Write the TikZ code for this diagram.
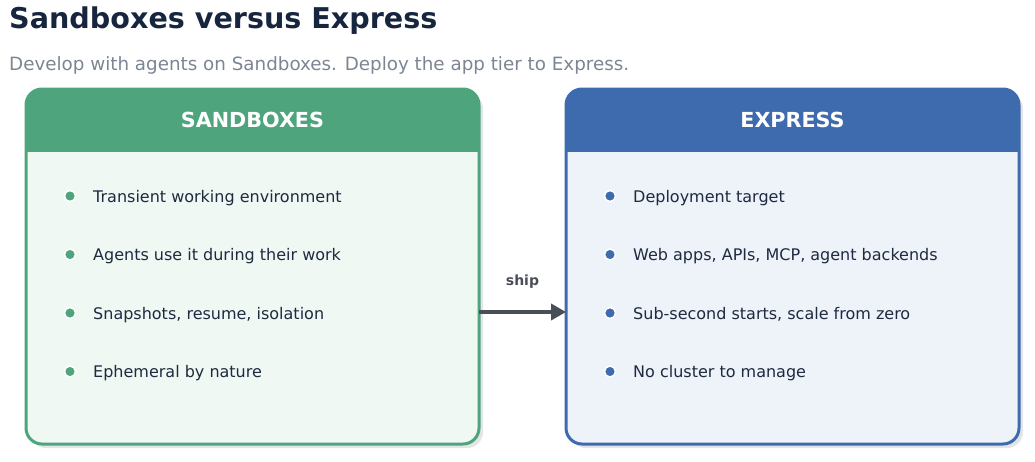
\documentclass[tikz,border=0pt]{standalone}
\usepackage{fontspec}
\setmainfont{DejaVu Sans}
\usetikzlibrary{arrows.meta}
\definecolor{sbgreen}{HTML}{4EA57D}
\definecolor{sbfill}{HTML}{F0F8F3}
\definecolor{exblue}{HTML}{3D6BAE}
\definecolor{exfill}{HTML}{EEF2F9}
\definecolor{titlenavy}{HTML}{17253F}
\definecolor{subgrey}{HTML}{7C8593}
\definecolor{itemtext}{HTML}{1E2A40}
\definecolor{arrowgrey}{HTML}{4A4F57}
\definecolor{shadowgrey}{HTML}{E4E5E7}
\begin{document}
\begin{tikzpicture}[x=1pt,y=-1pt,
  box/.style={rectangle, rounded corners=16, line width=3, minimum width=453, minimum height=355, outer sep=0pt},
  head/.style={text=white, font=\fontsize{20.7}{24}\selectfont\bfseries},
  item/.style={anchor=base west, text=itemtext, font=\fontsize{16}{19}\selectfont, inner sep=0pt},
  dot/.style={circle, draw=white, line width=1.5, inner sep=0pt, minimum size=11}]
\useasboundingbox (0,0) rectangle (1035,461);

% title
\node[anchor=base west, inner sep=0pt, text=titlenavy, font=\fontsize{28.6}{34}\selectfont\bfseries] at (9,28) (title) {Sandboxes versus Express};
\node[anchor=base west, inner sep=0pt, text=subgrey, font=\fontsize{18.3}{22}\selectfont] at (9,70) (subtitle) {Develop with agents on Sandboxes. Deploy the app tier to Express.};

% shadows
\fill[shadowgrey, rounded corners=16] (30,93) rectangle (483,448);
\fill[shadowgrey, rounded corners=16] (570,93) rectangle (1023,448);

% boxes
\node[box, fill=sbfill] at (252.5,266.5) (sandbox) {};
\node[box, fill=exfill] at (792.5,266.5) (express) {};

\begin{scope}
\clip[rounded corners=16] (sandbox.north west) rectangle (sandbox.south east);
\fill[sbgreen] (sandbox.north west) rectangle (479,152);
\end{scope}
\begin{scope}
\clip[rounded corners=16] (express.north west) rectangle (express.south east);
\fill[exblue] (express.north west) rectangle (1019,152);
\end{scope}
\draw[sbgreen, line width=3, rounded corners=16] (sandbox.north west) rectangle (sandbox.south east);
\draw[exblue, line width=3, rounded corners=16] (express.north west) rectangle (express.south east);

\node[head] at (252.5,120) (sbhead) {SANDBOXES};
\node[head] at (792.5,120) (exhead) {EXPRESS};

% items
\foreach \t [count=\i] in {Transient working environment, Agents use it during their work, {Snapshots, resume, isolation}, Ephemeral by nature}
{
     \node[dot, fill=sbgreen] at (70,137.5+58.5*\i) (sd\i) {};
     \node[item] at (93,143.5+58.5*\i) (s\i) {\t};
}
\foreach \t [count=\i] in {Deployment target, {Web apps, APIs, MCP, agent backends}, {Sub-second starts, scale from zero}, No cluster to manage}
{
     \node[dot, fill=exblue] at (610,137.5+58.5*\i) (ed\i) {};
     \node[item] at (633,143.5+58.5*\i) (e\i) {\t};
}

% ship arrow
\draw[-{Triangle[length=15,width=16]}, arrowgrey, line width=4] ([yshift=-45.5pt]sandbox.east) -- ([yshift=-45.5pt]express.west) node[midway, above=18pt, text=arrowgrey, font=\fontsize{14}{17}\selectfont\bfseries] (ship) {ship};
\end{tikzpicture}
\end{document}
